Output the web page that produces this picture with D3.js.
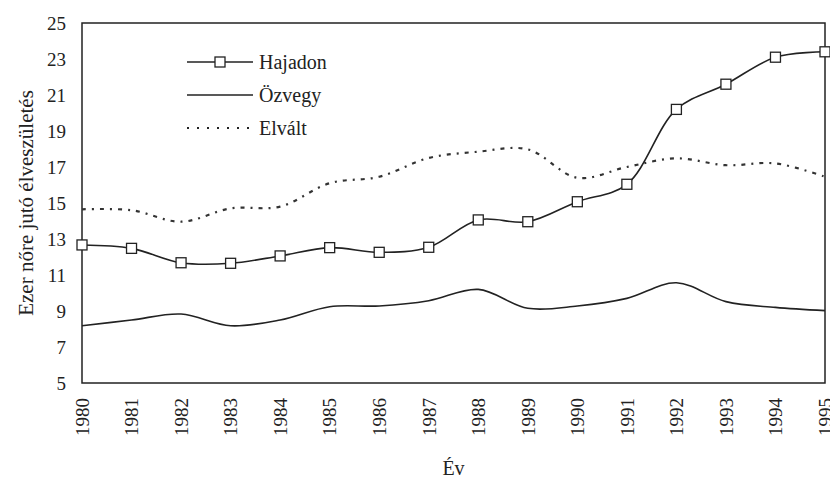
<!DOCTYPE html>
<html>
<head>
<meta charset="utf-8">
<script src="https://cdn.jsdelivr.net/npm/d3@7"></script>
<style>
  body { margin: 0; background: #fff; }
  svg text { font-family: "Liberation Serif", "Times New Roman", "DejaVu Serif", serif; fill: #222; }
</style>
</head>
<body>
<script>
const width = 830;
const height = 479;
const margin = { top: 23, right: 5, bottom: 96, left: 82 };
const serif = '"Liberation Serif", "Times New Roman", "DejaVu Serif", serif';

// adatok
const years = [1980, 1981, 1982, 1983, 1984, 1985, 1986, 1987, 1988, 1989, 1990, 1991, 1992, 1993, 1994, 1995];
const hajadon = [12.67, 12.48, 11.68, 11.65, 12.06, 12.52, 12.26, 12.54, 14.06, 13.96, 15.07, 16.04, 20.2, 21.6, 23.1, 23.4];
const ozvegy = [8.18, 8.5, 8.83, 8.18, 8.5, 9.24, 9.28, 9.57, 10.2, 9.15, 9.28, 9.7, 10.57, 9.52, 9.2, 9.02];
const elvalt = [14.65, 14.6, 13.96, 14.7, 14.8, 16.1, 16.46, 17.5, 17.85, 17.98, 16.4, 17.0, 17.48, 17.1, 17.2, 16.46];
const yTicks = [5, 7, 9, 11, 13, 15, 17, 19, 21, 23, 25];

const svg = d3.select('body').append('svg')
  .attr('width', width)
  .attr('height', height);

const x = d3.scaleLinear()
  .domain([1980, 1995])
  .range([margin.left, width - margin.right]);

const y = d3.scaleLinear()
  .domain([5, 25])
  .range([height - margin.bottom, margin.top]);

// keret
svg.append('rect')
  .attr('x', x(1980))
  .attr('y', y(25))
  .attr('width', x(1995) - x(1980))
  .attr('height', y(5) - y(25))
  .attr('fill', 'none')
  .attr('stroke', '#222')
  .attr('stroke-width', 1.5);

// tengelyek
const yAxis = svg.append('g')
  .attr('transform', `translate(${x(1980)},0)`)
  .call(d3.axisLeft(y).tickValues(yTicks).tickSize(0).tickPadding(16));
yAxis.attr('font-family', serif);
yAxis.select('.domain').remove();
yAxis.selectAll('text')
  .style('font-family', serif)
  .style('font-size', '19px')
  .attr('fill', '#222');

const xAxis = svg.append('g')
  .attr('transform', `translate(0,${y(5)})`)
  .call(d3.axisBottom(x).tickValues(years).tickFormat(d3.format('d')).tickSize(0));
xAxis.attr('font-family', serif);
xAxis.select('.domain').remove();
xAxis.selectAll('text')
  .style('font-family', serif)
  .style('font-size', '19px')
  .attr('fill', '#222')
  .attr('transform', 'rotate(-90)')
  .attr('text-anchor', 'end')
  .attr('x', -15)
  .attr('y', 0)
  .attr('dy', '0.33em');

// vonalak
const line = vals => d3.line()
  .x((d, i) => x(years[i]))
  .y(d => y(d))
  .curve(d3.curveCatmullRom.alpha(0.5))(vals);

svg.append('path')
  .attr('d', line(ozvegy))
  .attr('fill', 'none')
  .attr('stroke', '#222')
  .attr('stroke-width', 1.6);

svg.append('path')
  .attr('d', line(elvalt))
  .attr('fill', 'none')
  .attr('stroke', '#333')
  .attr('stroke-width', 2.2)
  .attr('stroke-dasharray', '4,6,2,6');

svg.append('path')
  .attr('d', line(hajadon))
  .attr('fill', 'none')
  .attr('stroke', '#222')
  .attr('stroke-width', 1.6);

svg.selectAll('rect.m')
  .data(hajadon)
  .enter()
  .append('rect')
  .attr('class', 'm')
  .attr('x', (d, i) => x(years[i]) - 5)
  .attr('y', d => y(d) - 5)
  .attr('width', 10)
  .attr('height', 10)
  .attr('fill', '#fff')
  .attr('stroke', '#222')
  .attr('stroke-width', 1.3);

// jelmagyarázat
const legend = [
  { name: 'Hajadon', dash: null, marker: true },
  { name: 'Özvegy', dash: null, marker: false },
  { name: 'Elvált', dash: '2,8', marker: false }
];
const lg = svg.append('g');
legend.forEach((l, i) => {
  const ly = 62 + i * 33;
  lg.append('line')
    .attr('x1', 187).attr('x2', 253)
    .attr('y1', ly).attr('y2', ly)
    .attr('stroke', '#222')
    .attr('stroke-width', l.dash ? 2 : 1.6)
    .attr('stroke-dasharray', l.dash);
  if (l.marker) {
    lg.append('rect')
      .attr('x', 215).attr('y', ly - 5)
      .attr('width', 10).attr('height', 10)
      .attr('fill', '#fff').attr('stroke', '#222').attr('stroke-width', 1.3);
  }
  lg.append('text')
    .attr('x', 259).attr('y', ly)
    .attr('dy', '0.33em')
    .style('font-family', serif)
    .style('font-size', '20px')
    .text(l.name);
});

// tengelycímek
svg.append('text')
  .attr('transform', `translate(33,${(y(5) + y(25)) / 2}) rotate(-90)`)
  .attr('text-anchor', 'middle')
  .style('font-family', serif)
  .style('font-size', '21px')
  .text('Ezer nőre jutó élveszületés');

svg.append('text')
  .attr('x', (x(1980) + x(1995)) / 2)
  .attr('y', 475)
  .attr('text-anchor', 'middle')
  .style('font-family', serif)
  .style('font-size', '20px')
  .text('Év');
</script>
</body>
</html>
